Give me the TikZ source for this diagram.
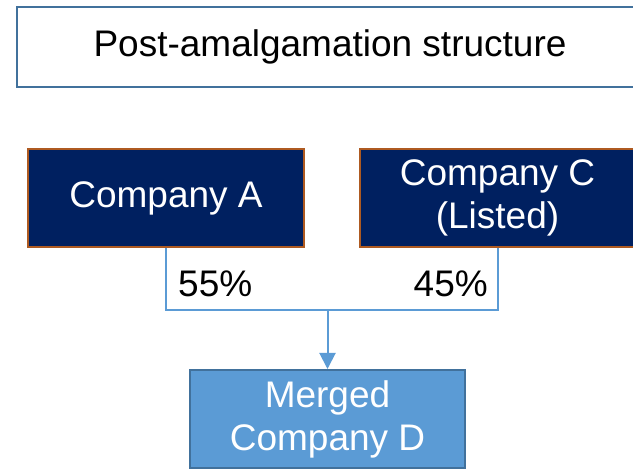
\documentclass[tikz,border=0pt]{standalone}
\usepackage{fontspec}
\setmainfont{Liberation Sans}
\usetikzlibrary{arrows.meta}

\definecolor{navyfill}{HTML}{002060}
\definecolor{rustedge}{HTML}{AE5A21}
\definecolor{skyfill}{HTML}{5B9BD5}
\definecolor{steeledge}{HTML}{41719C}

\tikzset{
    owner/.style={draw=rustedge, line width=2pt, fill=navyfill, text=white,
        minimum width=276pt, minimum height=98pt, align=center, inner sep=0pt},
    merged/.style={draw=steeledge, line width=2pt, fill=skyfill, text=white,
        minimum width=275pt, minimum height=98pt, align=center, inner sep=0pt},
    link/.style={draw=skyfill, line width=2pt},
}

\begin{document}
\begin{tikzpicture}[x=1pt, y=1pt, font=\fontsize{37}{43}\selectfont]
    \useasboundingbox (0,0) rectangle (633,469);

    % Title box (runs off the right edge)
    \node[draw=steeledge, line width=2pt, minimum width=626pt, minimum height=80pt] (title) at (330,422) {Post-amalgamation structure};

    % Shareholders
    \node[owner] (compA) at (166,271) {Company A};
    \node[owner] (compC) at (497.5,271) {Company C\\(Listed)};

    % Resulting entity
    \node[merged] (compD) at (327.5,50) {Merged\\Company D};

    % Ownership lines
    \draw[link] (compA.south) -- ++(0,-62) coordinate (joinA) -| (compC.south);
    \draw[link, -{Triangle[width=16pt, length=16pt]}] (compD.north |- joinA) -- (compD.north);

    % Percentages
    \node[anchor=base west, inner sep=0pt] (pctA) at (178,172) {55\%};
    \node[anchor=base east, inner sep=0pt] (pctC) at (488,172) {45\%};
\end{tikzpicture}
\end{document}
